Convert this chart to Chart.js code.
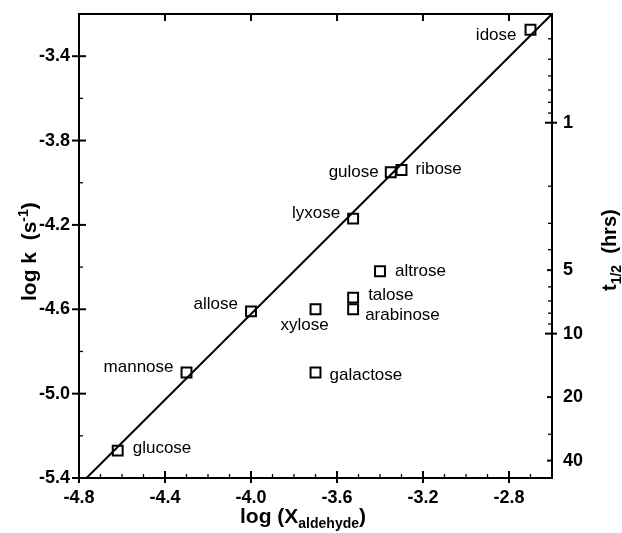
<!DOCTYPE html>
<html>
<head>
<meta charset="utf-8">
<script src="https://cdn.jsdelivr.net/npm/chart.js@4.4.0/dist/chart.umd.min.js"></script>
<style>
  html, body { margin: 0; padding: 0; background: #fff; }
  #wrap { width: 622px; height: 533px; }
</style>
</head>
<body>
<div id="wrap"><canvas id="chart" width="622" height="533"></canvas></div>
<script>
// data
const sugars = ['glucose', 'mannose', 'allose', 'xylose', 'galactose', 'talose',
                'arabinose', 'altrose', 'lyxose', 'gulose', 'ribose', 'idose'];
const logX = [-4.62, -4.30, -4.00, -3.70, -3.70, -3.525, -3.525, -3.40, -3.525, -3.35, -3.30, -2.70];
const logK = [-5.27, -4.90, -4.61, -4.60, -4.90, -4.545, -4.60, -4.42, -4.17, -3.95, -3.94, -3.275];
const fitX = [-4.765, -2.6];
const fitY = [-5.4, -3.2];
const xTicks = [-4.8, -4.4, -4.0, -3.6, -3.2, -2.8];
const yTicks = [-5.4, -5.0, -4.6, -4.2, -3.8, -3.4];
const halfLifeTicks = [1, 5, 10, 20, 40];          // hours, labelled
const halfLifeMinor = [0.3, 0.4, 0.5, 0.6, 0.7, 0.8, 0.9, 2, 3, 4, 6, 7, 8, 9, 30];

// label placement next to each square (align, dx, dy in px)
const labelPlace = {
    glucose:   ['left', 15, -2],  mannose: ['right', -13, -5], allose: ['right', -13, -7],
    xylose:    ['center', -11, 16], galactose: ['left', 14, 3], talose: ['left', 15, -2],
    arabinose: ['left', 12, 6],   altrose: ['left', 15, 0],     lyxose: ['right', -13, -5],
    gulose:    ['right', -12, 0], ribose: ['left', 14, -1],     idose: ['right', -14, 5]
};

// t1/2 (hours) -> log k (s^-1)
const tToLogK = t => Math.log10(Math.LN2 / 3600) - Math.log10(t);

const FONT = "'Liberation Sans', Arial, Helvetica, sans-serif";
const tickFont = { family: FONT, size: 18, weight: 'bold' };

const decor = {
    id: 'decor',
    afterDraw(chart) {
        const ctx = chart.ctx;
        const a = chart.chartArea;
        const sx = chart.scales.x, sy = chart.scales.y;
        ctx.save();
        ctx.strokeStyle = '#000';
        ctx.fillStyle = '#000';
        ctx.lineWidth = 2;
        ctx.strokeRect(a.left, a.top, a.right - a.left, a.bottom - a.top);

        const seg = (x1, y1, x2, y2) => { ctx.beginPath(); ctx.moveTo(x1, y1); ctx.lineTo(x2, y2); ctx.stroke(); };

        // x ticks: bottom major crossing, minor every 0.1, top major
        xTicks.forEach(v => {
            const px = sx.getPixelForValue(v);
            seg(px, a.bottom - 7, px, a.bottom + 5);
            seg(px, a.top, px, a.top + 7);
        });
        ctx.lineWidth = 1.3;
        for (let i = 0; i <= 22; i++) {
            const v = -4.8 + i * 0.1;
            if (i % 4 === 0) continue;
            const px = sx.getPixelForValue(v);
            seg(px, a.bottom, px, a.bottom - 4);
        }
        // y ticks left
        ctx.lineWidth = 2;
        yTicks.forEach(v => {
            const py = sy.getPixelForValue(v);
            seg(a.left - 7, py, a.left + 7, py);
        });
        ctx.lineWidth = 1.3;
        for (let i = 1; i < 11; i += 2) {
            const py = sy.getPixelForValue(-5.4 + i * 0.2);
            seg(a.left, py, a.left + 4, py);
        }
        // right axis: half-life
        ctx.lineWidth = 2;
        halfLifeTicks.forEach(t => {
            const py = sy.getPixelForValue(tToLogK(t));
            if (t === 1 || t === 10) seg(a.right - 7, py, a.right + 5, py);
            else seg(a.right - 5, py, a.right, py);
        });
        ctx.lineWidth = 1.3;
        halfLifeMinor.forEach(t => {
            const py = sy.getPixelForValue(tToLogK(t));
            if (py < a.top + 1) return;
            seg(a.right - 4, py, a.right, py);
        });

        // point labels
        ctx.font = `17px ${FONT}`;
        ctx.textBaseline = 'middle';
        sugars.forEach((name, i) => {
            const p = labelPlace[name];
            ctx.textAlign = p[0];
            ctx.fillText(name, sx.getPixelForValue(logX[i]) + p[1], sy.getPixelForValue(logK[i]) + p[2]);
        });

        // axis titles
        ctx.textAlign = 'left';
        ctx.textBaseline = 'alphabetic';
        const big = `bold 21px ${FONT}`, small = `bold 14px ${FONT}`;
        const run = (parts) => {
            let x = 0;
            parts.forEach(([txt, font, dy]) => {
                ctx.font = font;
                ctx.fillText(txt, x, dy);
                x += ctx.measureText(txt).width;
            });
        };
        // bottom
        ctx.save();
        ctx.translate(240, 523);
        run([['log (X', big, 0], ['aldehyde', small, 5], [')', big, 0]]);
        ctx.restore();
        // left
        ctx.save();
        ctx.translate(36, 301);
        ctx.rotate(-Math.PI / 2);
        run([['log k  (s', big, 0], ['-1', small, -8], [')', big, 0]]);
        ctx.restore();
        // right
        ctx.save();
        ctx.translate(616, 291);
        ctx.rotate(-Math.PI / 2);
        run([['t', `bold 20px ${FONT}`, 0], ['1/2', small, 5], ['  (hrs)', `bold 20px ${FONT}`, 0]]);
        ctx.restore();

        ctx.restore();
    }
};

// fixed axis boxes so the plot area sits where the original one does
const fitV = w => s => { s.width = w; s.paddingTop = 0; s.paddingBottom = 0; };
const fitH = h => s => { s.height = h; s.paddingLeft = 0; s.paddingRight = 0; };

new Chart(document.getElementById('chart'), {
    type: 'scatter',
    data: {
        datasets: [{
            label: 'sugars',
            data: logX.map((x, i) => ({ x: x, y: logK[i] })),
            pointStyle: 'rect',
            pointRadius: 7,
            pointHoverRadius: 7,
            pointBorderWidth: 2,
            pointBorderColor: '#000',
            pointBackgroundColor: 'rgba(0,0,0,0)'
        }, {
            label: 'fit',
            data: fitX.map((x, i) => ({ x: x, y: fitY[i] })),
            showLine: true,
            borderColor: '#000',
            borderWidth: 2,
            pointRadius: 0
        }]
    },
    options: {
        responsive: false,
        devicePixelRatio: 1,
        animation: false,
        layout: { padding: { top: 14, left: 0, right: 0, bottom: 0 } },
        plugins: { legend: { display: false }, tooltip: { enabled: false } },
        scales: {
            x: {
                type: 'linear', position: 'bottom', min: -4.8, max: -2.6,
                afterBuildTicks: s => { s.ticks = xTicks.map(v => ({ value: v })); },
                afterFit: fitH(55),
                ticks: { callback: v => v.toFixed(1), font: tickFont, color: '#000', padding: 9, maxRotation: 0, autoSkip: false },
                grid: { display: false, drawTicks: false },
                border: { display: false }
            },
            y: {
                type: 'linear', position: 'left', min: -5.4, max: -3.2,
                afterBuildTicks: s => { s.ticks = yTicks.map(v => ({ value: v })); },
                afterFit: fitV(79),
                ticks: { callback: v => v.toFixed(1), font: tickFont, color: '#000', padding: 9, autoSkip: false },
                grid: { display: false, drawTicks: false },
                border: { display: false }
            },
            y2: {
                type: 'linear', position: 'right', min: -5.4, max: -3.2,
                afterBuildTicks: s => { s.ticks = halfLifeTicks.map(t => ({ value: tToLogK(t) })); },
                afterFit: fitV(70),
                ticks: { callback: (v, i) => String(halfLifeTicks[i]), font: tickFont, color: '#000', padding: 11, autoSkip: false },
                grid: { display: false, drawTicks: false },
                border: { display: false }
            }
        }
    },
    plugins: [decor]
});
</script>
</body>
</html>
